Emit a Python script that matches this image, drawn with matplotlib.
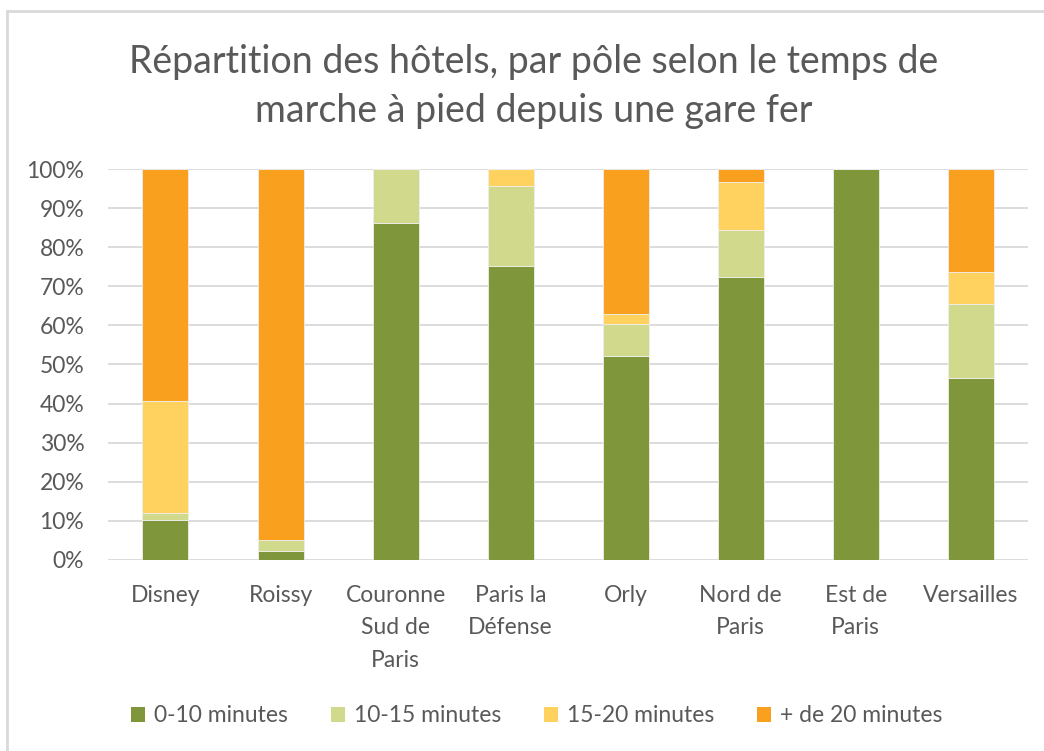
import matplotlib
matplotlib.use("Agg")
import matplotlib.pyplot as plt
from matplotlib.lines import Line2D
from matplotlib.patches import Patch
from matplotlib.ticker import FuncFormatter, MultipleLocator

# Share of hotels per hub, by walking time to the nearest rail station (%)
categories = ["Disney", "Roissy", "Couronne\nSud de\nParis", "Paris la\nDéfense",
              "Orly", "Nord de\nParis", "Est de\nParis", "Versailles"]
min_0_10 = [10.2, 2.2, 86.3, 75.2, 52.2, 72.3, 100.0, 46.5]
min_10_15 = [1.7, 2.9, 13.7, 20.5, 8.2, 12.2, 0.0, 19.0]
min_15_20 = [28.7, 0.0, 0.0, 4.3, 2.5, 12.3, 0.0, 8.2]
min_20_plus = [59.4, 94.9, 0.0, 0.0, 37.1, 3.2, 0.0, 26.3]
series_labels = ["0-10 minutes", "10-15 minutes", "15-20 minutes", "+ de 20 minutes"]
title = "Répartition des hôtels, par pôle selon le temps de\nmarche à pied depuis une gare fer"

colors = ["#7F963A", "#D1D98D", "#FFD15F", "#F9A01F"]
text_grey = "#595959"
label_size = 16.5

plt.rcParams["font.family"] = ["Lato", "DejaVu Sans"]

fig = plt.figure(figsize=(10.44, 7.51), dpi=100)
ax = fig.add_axes([0.1034, 0.2547, 0.8816, 0.5199])

x = list(range(len(categories)))
bottom = [0.0] * len(categories)
for vals, col in zip([min_0_10, min_10_15, min_15_20, min_20_plus], colors):
    ax.bar(x, vals, width=0.4, bottom=bottom, color=col,
           edgecolor="#eeeeee", linewidth=0.6, zorder=3)
    bottom = [b + v for b, v in zip(bottom, vals)]

ax.set_xlim(-0.5, len(categories) - 0.5)
ax.set_ylim(0, 100)
ax.yaxis.set_major_locator(MultipleLocator(10))
ax.yaxis.set_major_formatter(FuncFormatter(lambda v, _: f"{v:.0f}%"))
ax.grid(axis="y", color="#d9d9d9", linewidth=1.3, zorder=0)
for s in ax.spines.values():
    s.set_visible(False)
ax.tick_params(axis="both", length=0, colors=text_grey, labelsize=label_size)
ax.tick_params(axis="y", pad=17)
ax.tick_params(axis="x", pad=18)
ax.set_xticks(x)
ax.set_xticklabels(categories, linespacing=1.68, va="top")

fig.text(0.511, 0.885, title, ha="center", va="center", fontsize=27,
         color=text_grey, linespacing=1.45)

handles = [Patch(facecolor=c, edgecolor="none") for c in colors]
fig.legend(handles, series_labels, loc="center", bbox_to_anchor=(0.514, 0.047),
           ncol=4, frameon=False, fontsize=label_size, labelcolor=text_grey,
           handlelength=0.62, handleheight=0.62, handletextpad=0.4,
           columnspacing=1.85)

# chart area border (top and left edges)
fig.add_artist(Line2D([0.0067, 0.0067], [0.0, 0.9853], transform=fig.transFigure,
                      color="#d9d9d9", linewidth=2))
fig.add_artist(Line2D([0.0067, 1.0], [0.9853, 0.9853], transform=fig.transFigure,
                      color="#d9d9d9", linewidth=2))

fig.savefig("out.png", dpi=100, facecolor="white")
